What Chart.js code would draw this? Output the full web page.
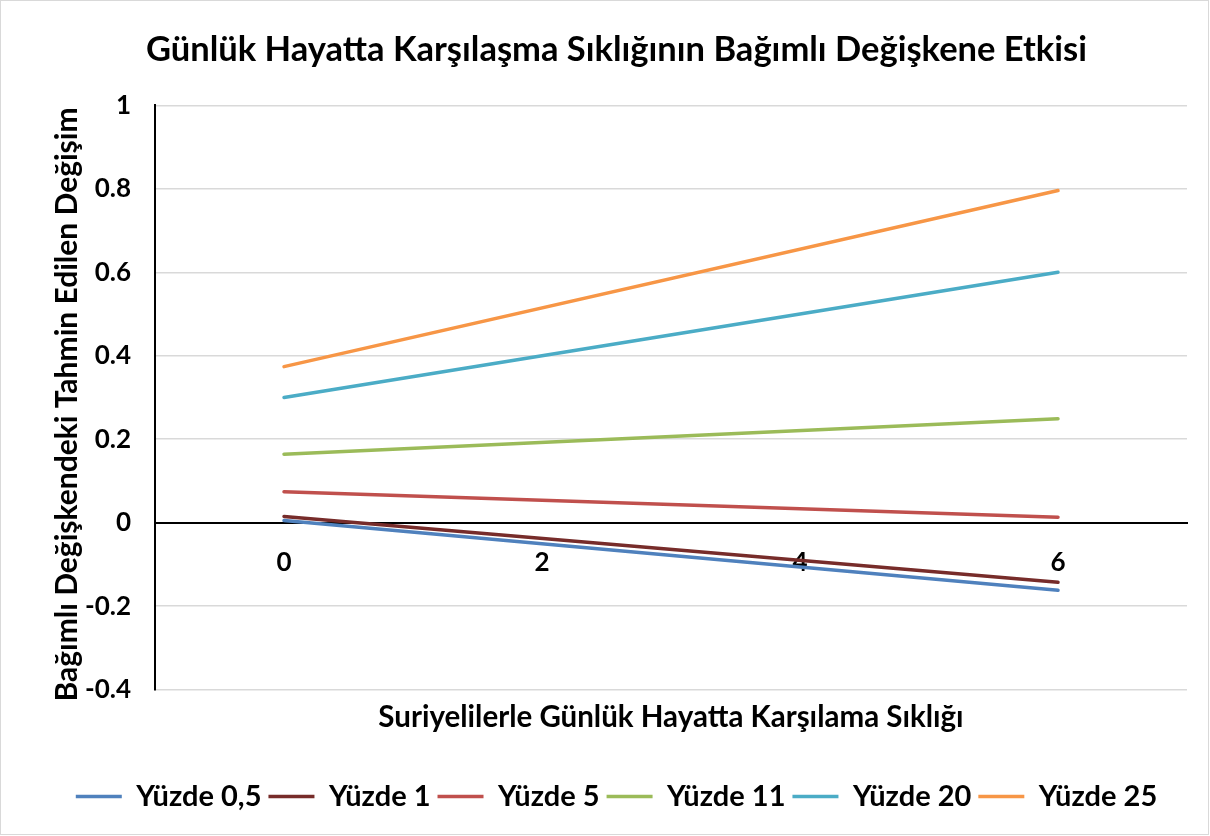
<!DOCTYPE html>
<html>
<head>
<meta charset="utf-8">
<script src="https://cdn.jsdelivr.net/npm/chart.js@4"></script>
<style>
  html, body { margin: 0; padding: 0; background: #fff; }
  #wrap { width: 1210px; height: 836px; position: relative; }
</style>
</head>
<body>
<div id="wrap"><canvas id="chart"></canvas></div>
<script>
// endpoints (lines are straight from x=0 to x=6)
const xValues = [0, 6];
const seriesNames = ['Yüzde 0,5', 'Yüzde 1', 'Yüzde 5', 'Yüzde 11', 'Yüzde 20', 'Yüzde 25'];
const yuzde05 = [0.005, -0.162];
const yuzde1 = [0.015, -0.143];
const yuzde5 = [0.074, 0.013];
const yuzde11 = [0.164, 0.249];
const yuzde20 = [0.300, 0.600];
const yuzde25 = [0.374, 0.796];
const xTicks = [0, 2, 4, 6];
const yTicks = [-0.4, -0.2, 0, 0.2, 0.4, 0.6, 0.8, 1];

const colors = ['#4F81BD', '#772C2A', '#C0504D', '#9BBB59', '#4BACC6', '#F79646'];
const allSeries = [yuzde05, yuzde1, yuzde5, yuzde11, yuzde20, yuzde25];
const FONT = 'Lato, Calibri, Carlito, sans-serif';

const datasets = allSeries.map((vals, i) => ({
  label: seriesNames[i],
  data: vals.map((v, j) => ({ x: xValues[j], y: v })),
  borderColor: colors[i],
  backgroundColor: colors[i],
  borderWidth: 3.5,
  pointRadius: 0,
  tension: 0,
  borderCapStyle: 'round'
}));

// frame + rotated y title drawn at fixed spots, like the Excel chart
const extras = {
  id: 'extras',
  beforeDraw(chart) {
    const c = chart.ctx;
    c.save();
    c.fillStyle = '#fff';
    c.fillRect(0, 0, chart.width, chart.height);
    c.strokeStyle = '#D9D9D9';
    c.lineWidth = 1;
    c.strokeRect(0.5, 0.5, 1208, 834);
    c.restore();
  },
  afterDraw(chart) {
    const c = chart.ctx;
    const a = chart.chartArea;
    c.save();
    c.fillStyle = '#000';
    c.font = 'bold 30px ' + FONT;
    c.textAlign = 'center';
    c.textBaseline = 'middle';
    c.translate(67, (a.top + a.bottom) / 2 + 7);
    c.rotate(-Math.PI / 2);
    c.fillText('Bağımlı Değişkendeki Tahmin Edilen Değişim', 0, 0);
    c.restore();
  }
};

new Chart(document.getElementById('chart'), {
  type: 'line',
  data: { datasets },
  plugins: [extras],
  options: {
    responsive: true,
    maintainAspectRatio: false,
    animation: false,
    layout: { padding: { left: 46, right: 23, top: 0, bottom: 15 } },
    plugins: {
      title: {
        display: true,
        text: 'Günlük Hayatta Karşılaşma Sıklığının Bağımlı Değişkene Etkisi',
        color: '#000',
        font: { family: FONT, size: 34.5, weight: 'bold' },
        padding: { top: 29, bottom: 35 }
      },
      // x-axis title sits at the bottom, under the plot (axis itself crosses at y=0)
      subtitle: {
        display: true,
        position: 'bottom',
        weight: 500,
        fullSize: false,
        text: 'Suriyelilerle Günlük Hayatta Karşılama Sıklığı',
        color: '#000',
        font: { family: FONT, size: 29.5, weight: 'bold' },
        padding: { top: 10, bottom: 40 }
      },
      legend: {
        position: 'bottom',
        weight: 2000,
        labels: {
          color: '#000',
          font: { family: FONT, size: 29, weight: 'bold' },
          usePointStyle: true,
          pointStyle: 'line',
          pointStyleWidth: 46,
          padding: 7
        }
      },
      tooltip: { enabled: false }
    },
    scales: {
      x: {
        type: 'linear',
        position: { y: 0 },
        min: -1,
        max: 7,
        afterBuildTicks: (s) => { s.ticks = xTicks.map(v => ({ value: v })); },
        ticks: {
          color: '#000',
          font: { family: FONT, size: 26, weight: 'bold' },
          padding: 24,
          maxRotation: 0
        },
        grid: { display: false, drawTicks: false },
        border: { color: '#000', width: 2 }
      },
      y: {
        min: -0.4,
        max: 1,
        afterBuildTicks: (s) => { s.ticks = yTicks.map(v => ({ value: v })); },
        afterFit: (s) => { s.width = 109; },
        ticks: {
          color: '#000',
          font: { family: FONT, size: 26, weight: 'bold' },
          padding: 24,
          callback: (v) => String(Math.round(v * 10) / 10)
        },
        grid: { color: '#D9D9D9', lineWidth: 1.5, drawTicks: false },
        border: { color: '#000', width: 2 }
      }
    }
  }
});
</script>
</body>
</html>
